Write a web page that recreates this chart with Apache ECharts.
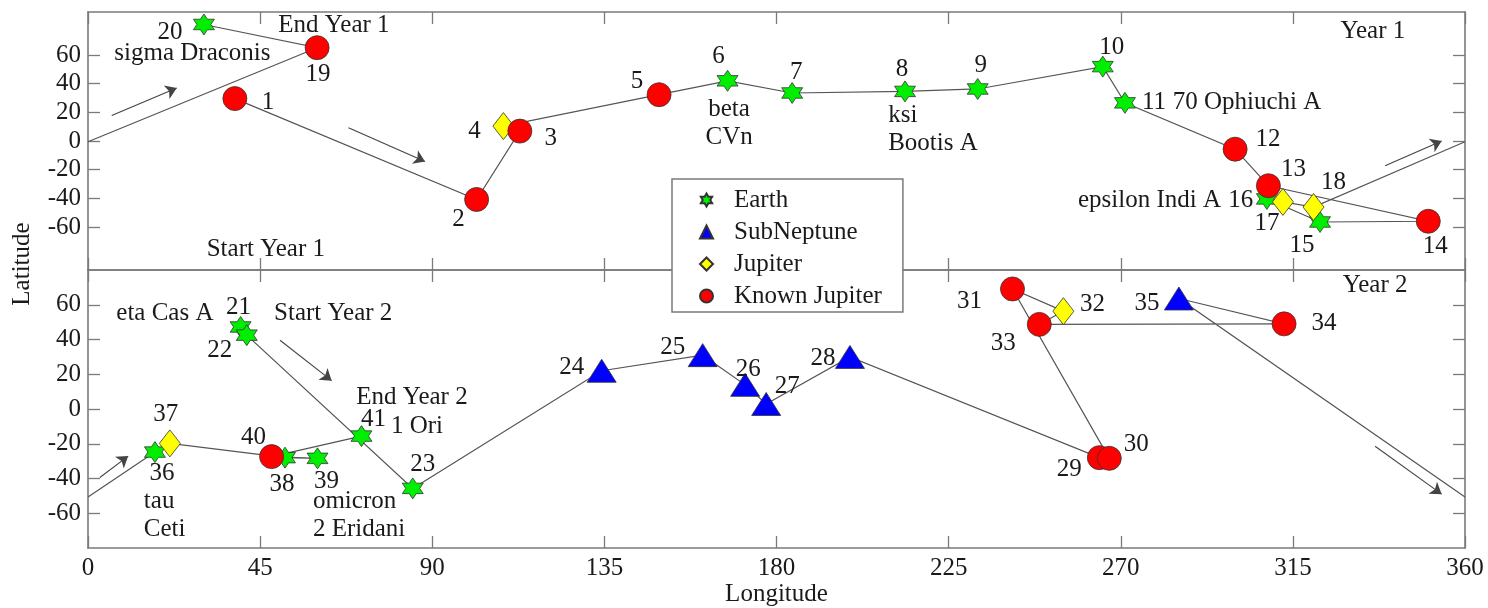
<!DOCTYPE html>
<html><head><meta charset="utf-8">
<script src="https://cdn.jsdelivr.net/npm/echarts@6/dist/echarts.min.js"></script>
<style>html,body{margin:0;padding:0;background:#fff}#c{width:1488px;height:608px}</style>
</head><body><div id="c"></div>
<script>
// ---------------- DATA ----------------
const year1Ids  = [1,2,3,4,5,6,7,8,9,10,11,12,13,14,15,16,17,18,19,20];
const year1Lon  = [38.4,101.6,112.9,108.6,149.3,167.2,184.1,213.6,232.6,265.3,271.1,299.9,308.6,350.4,322.1,308.2,312.4,320.4,59.9,30.3];
const year1Lat  = [29.6,-40.8,6.9,10.4,32.3,42,33.5,34.6,36.3,51.9,26.6,-5.7,-31.2,-56,-56.5,-40.4,-42.5,-46.1,65.1,81.3];
const year1Type = ['K','K','K','J','K','E','E','E','E','E','E','K','K','K','E','E','J','J','K','E'];

const year2Ids  = [21,22,23,24,25,26,27,28,29,30,31,32,33,34,35,36,37,38,39,40,41];
const year2Lon  = [39.9,41.5,84.9,134.3,160.7,171.8,177.3,199.2,264.4,267,241.7,255,248.7,312.7,285.2,17.5,21.4,51.5,60,48,71.5];
const year2Lat  = [47.2,42.5,-45.7,22,31,13.9,2.9,30,-28,-28.4,69.1,56.3,48.7,49,63.6,-24.8,-19.8,-28,-28.4,-27.4,-15.6];
const year2Type = ['E','E','E','S','S','S','S','S','K','K','K','J','K','K','S','E','J','E','E','K','E'];

// latitude where each year's path crosses the 360/0 seam, and the point id after which it crosses
const wrapLat   = [-0.5, -50.7];
const wrapAfter = [18, 35];

const typeNames = {E:'Earth', S:'SubNeptune', J:'Jupiter', K:'Known Jupiter'};
const legendNames = ['Earth','SubNeptune','Jupiter','Known Jupiter'];

// direction arrows [lonStart, latStart, lonEnd, latEnd]
const arrowsYear1 = [[6.2,17.8,23.2,37],[68.1,9.3,88.1,-14.3],[339.1,-17.3,353.9,0]];
const arrowsYear2 = [[3.1,-39.4,10.5,-27.1],[50.2,39.6,63.7,16.3],[336.5,-21.4,353.9,-49]];

// text notes [text, lon, lat]
const notesYear1 = [
  ['End Year 1',64.3,80.8],['sigma Draconis',27.3,61.2],['Start Year 1',46.5,-75.5],
  ['beta\nCVn',167.6,12.2],['ksi\nBootis A',209.2,7.8],['70 Ophiuchi A',283.6,26.8],
  ['epsilon Indi A',296.2,-41.6],['Year 1',335.9,76.2]
];
const notesYear2 = [
  ['Year 2',336.5,71],['eta Cas A',20.1,54.9],['Start Year 2',64.1,55],
  ['End Year 2',84.7,6.5],['1 Ori',86,-10],['tau\nCeti',14.6,-61],['omicron\n2 Eridani',58.8,-61.5]
];

const xTicks     = [0,45,90,135,180,225,270,315,360];
const yTicks     = [-60,-40,-20,0,20,40,60];
const yRangeTop  = [-90,90];
const yRangeBot  = [-80,80];

// ---------------- STYLE ----------------
const FONT = 'Liberation Serif';
const TXT = '#1a1a1a';
const FRAME = '#7a7a7a';
const labelOffsets = {
  1:[33,4],2:[-18,20],3:[31,7],4:[-29,5],5:[-22,-13],6:[-9,-24],7:[4,-21],8:[-3,-22],9:[3,-24],10:[9,-19],
  11:[29,0],12:[33,-10],13:[25,-16],14:[7,25],15:[-18,23],16:[-26,2],17:[-16,22],18:[20,-25],19:[1,27],20:[-34,8],
  21:[-2,-20],22:[-27,15],23:[10,-24],24:[-30,-3],25:[-30,-8],26:[3,-15],27:[21,-18],28:[-27,2],29:[-30,12],30:[27,-14],
  31:[-43,12],32:[29,-7],33:[-36,19],34:[40,0],35:[-32,5],36:[7,21],37:[-4,-29],38:[-3,27],39:[9,23],40:[-18,-19],41:[12,-17]
};
const noteAlign = {'ksi\nBootis A':'left','70 Ophiuchi A':'left','epsilon Indi A':'right','tau\nCeti':'left','omicron\n2 Eridani':'left'};
const STAR = 'path://M0,-100 L28.9,-50 L86.6,-50 L57.7,0 L86.6,50 L28.9,50 L0,100 L-28.9,50 L-86.6,50 L-57.7,0 L-86.6,-50 L-28.9,-50 Z';
const typeStyle = {
  E:{symbol:STAR, size:[21,21], color:'#00ee00'},
  S:{symbol:'triangle', size:[29,23], color:'#0000ff'},
  J:{symbol:'diamond', size:[21,27], color:'#ffff00'},
  K:{symbol:'circle', size:[24,24], color:'#ff0000'}
};

// ---------------- BUILD ----------------
function xAxis(grid, pos, labels){
  return {type:'value', gridIndex:grid, position:pos, min:0, max:360, interval:45,
    axisLine:{show:true, onZero:false, lineStyle:{color:FRAME, width:1.6}},
    axisTick:{show:true, inside:true, length:12, lineStyle:{color:FRAME, width:1.3}},
    axisLabel:{show:labels, fontFamily:FONT, fontSize:25, color:TXT, margin:8},
    splitLine:{show:false},
    name: labels ? 'Longitude' : '', nameLocation:'middle', nameGap:34,
    nameTextStyle:{fontFamily:FONT, fontSize:25, color:TXT}};
}
function yAxis(grid, pos, range, labels){
  return {type:'value', gridIndex:grid, position:pos, min:range[0], max:range[1],
    axisLine:{show:true, onZero:false, lineStyle:{color:FRAME, width:1.6}},
    axisTick:{show:true, inside:true, length:12, customValues:yTicks, lineStyle:{color:FRAME, width:1.3}},
    axisLabel:{show:labels, customValues:yTicks, fontFamily:FONT, fontSize:25, color:TXT, margin:7},
    splitLine:{show:false}};
}
function pathCoords(lon, lat, after, wl){
  const a = [], b = [];
  for (let i=0;i<lon.length;i++){ (i<after ? a : b).push([lon[i], lat[i]]); }
  a.push([360, wl]); b.unshift([0, wl]);
  return [{coords:a},{coords:b}];
}
function panelSeries(pi, ids, lon, lat, types, arrows, notes){
  const ax = pi*2;
  const out = [];
  out.push({type:'lines', coordinateSystem:'cartesian2d', xAxisIndex:ax, yAxisIndex:ax, polyline:true, silent:true,
    data:pathCoords(lon, lat, wrapAfter[pi]-ids[0]+1, wrapLat[pi]),
    lineStyle:{color:'#555', width:1.2, opacity:1}, z:2});
  out.push({type:'lines', coordinateSystem:'cartesian2d', xAxisIndex:ax, yAxisIndex:ax, silent:true,
    symbol:['none','arrow'], symbolSize:11,
    data:arrows.map(a=>({coords:[[a[0],a[1]],[a[2],a[3]]]})),
    lineStyle:{color:'#444', width:1.1, opacity:1}, z:2});
  ['E','S','J','K'].forEach(t=>{
    const st = typeStyle[t];
    const data = [];
    ids.forEach((id,i)=>{ if (types[i]===t) data.push({value:[lon[i],lat[i]], num:id, label:{offset:labelOffsets[id]}}); });
    out.push({type:'scatter', name:typeNames[t], xAxisIndex:ax, yAxisIndex:ax, symbol:st.symbol, symbolSize:st.size,
      itemStyle:{color:st.color, borderColor:'#333', borderWidth:0.8, opacity:1},
      label:{show:true, position:'inside', formatter:p=>String(p.data.num), fontFamily:FONT, fontSize:25, color:TXT, textBorderWidth:0},
      emphasis:{disabled:true}, data, z:3});
  });
  out.push({type:'scatter', name:'notes'+pi, xAxisIndex:ax, yAxisIndex:ax, symbol:'circle', symbolSize:0.5,
    itemStyle:{color:'#ffffff', opacity:1}, silent:true,
    label:{show:true, position:'inside', formatter:p=>p.data.name, fontFamily:FONT, fontSize:25, lineHeight:28, color:TXT, textBorderWidth:0, opacity:1},
    emphasis:{disabled:true},
    data:notes.map(n=>({name:n[0], value:[n[1],n[2]], label:{align:noteAlign[n[0]]||'center'}})), z:4});
  return out;
}

const chart = echarts.init(document.getElementById('c'), null, {renderer:'canvas'});
chart.setOption({
  backgroundColor:'#fff',
  animation:false,
  grid:[
    {left:88, right:23, top:12, height:258},
    {left:88, right:23, top:270, height:280}
  ],
  xAxis:[xAxis(0,'bottom',false), xAxis(0,'top',false), xAxis(1,'bottom',true), xAxis(1,'top',false)],
  yAxis:[yAxis(0,'left',yRangeTop,true), yAxis(0,'right',yRangeTop,false), yAxis(1,'left',yRangeBot,true), yAxis(1,'right',yRangeBot,false)],
  legend:{data:legendNames, orient:'vertical', left:672, top:179, backgroundColor:'#fff', borderColor:FRAME, borderWidth:1.5,
    padding:[8,21,3,27], itemWidth:13, itemHeight:13, itemGap:6, selectedMode:false, z:10,
    textStyle:{fontFamily:FONT, fontSize:25, color:TXT, lineHeight:26, padding:[0,0,0,16]}},
  graphic:[{type:'text', x:22, y:264, rotation:Math.PI/2, style:{text:'Latitude', font:'25px "Liberation Serif"', fill:TXT, align:'center', verticalAlign:'middle'}}],
  series:[
    ...panelSeries(0, year1Ids, year1Lon, year1Lat, year1Type, arrowsYear1, notesYear1),
    ...panelSeries(1, year2Ids, year2Lon, year2Lat, year2Type, arrowsYear2, notesYear2)
  ]
});
</script></body></html>
